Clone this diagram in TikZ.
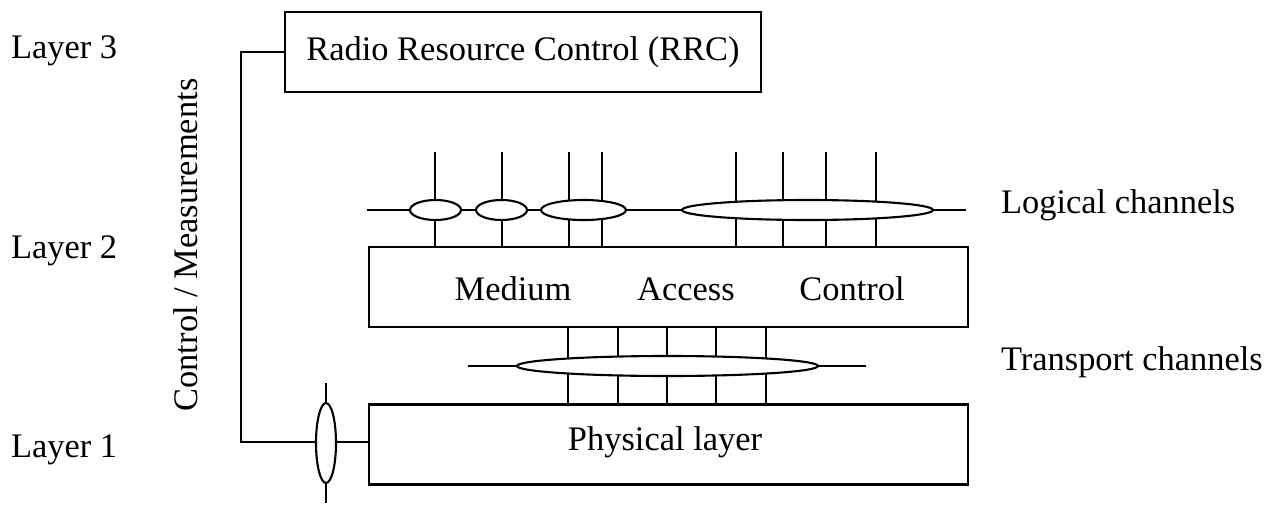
\documentclass[tikz,border=0pt]{standalone}
\usepackage{fontspec}
\setmainfont{Liberation Serif}
\usetikzlibrary{shapes.geometric}
\begin{document}
\begin{tikzpicture}[x=0.02cm,y=-0.02cm,
  line width=1.2pt,
  lbl/.style={font=\fontsize{19.6}{23}\selectfont, inner sep=0pt},
  layerbox/.style={draw, rectangle, inner sep=0pt, minimum height=1.6cm},
  chan/.style={draw, ellipse, fill=white, inner sep=0pt, minimum height=0.4cm}
]
\useasboundingbox (0,0) rectangle (1270,517);

% layer labels
\node[lbl, anchor=west] (l3) at (10,51) {Layer 3};
\node[lbl, anchor=west] (l2) at (10,251) {Layer 2};
\node[lbl, anchor=west] (l1) at (10,450) {Layer 1};
\node[lbl, rotate=90] (cm) at (186,245) {Control / Measurements};

% protocol boxes
\node[layerbox, minimum width=9.52cm] (rrc) at (523,52) {};
\node[lbl] (rrct) at (523,52) {Radio Resource Control (RRC)};
\node[layerbox, minimum width=11.98cm] (mac) at (668.5,287) {};
\node[lbl] (medium) at (513,289) {Medium};
\node[lbl] (access) at (686,289) {Access};
\node[lbl] (control) at (852,289) {Control};
\node[layerbox, minimum width=11.98cm] (phy) at (668.5,444.5) {};
\node[lbl] (phyt) at (665,442) {Physical layer};

% channel captions
\node[lbl, anchor=west] (logt) at (1000,205) {Logical channels};
\node[lbl, anchor=west] (trt) at (1000,362) {Transport channels};

% control / measurement path from RRC to the physical layer
\coordinate (bend1) at (241,52);
\coordinate (bend2) at (241,442);
\draw (rrc.west) -- (bend1) -- (bend2) -- (phy.west |- bend2);
\coordinate (cmtop) at (326,383);
\coordinate (cmbot) at (326,503);
\draw (cmtop) -- (cmbot);
\node[chan, minimum width=0.4cm, minimum height=1.6cm] (cme) at (326,443) {};

% logical channels
\coordinate (lgl) at (367,210);
\coordinate (lgr) at (966,210);
\draw (lgl) -- (lgr);
\foreach \x [count=\i] in {435,502,569,602,736,783,826,876} {
  \coordinate (lt\i) at (\x,152);
  \draw (lt\i) -- (lt\i |- mac.north);
}
\node[chan, minimum width=1.02cm] (e1) at (435.5,210) {};
\node[chan, minimum width=1.02cm] (e2) at (501.5,210) {};
\node[chan, minimum width=1.7cm] (e3) at (583.5,210) {};
\node[chan, minimum width=5.02cm] (e4) at (807.5,210) {};

% transport channels
\coordinate (trl) at (468,366);
\coordinate (trr) at (866,366);
\draw (trl) -- (trr);
\foreach \x [count=\i] in {568,618,667,716,766} {
  \coordinate (tt\i) at (\x,366);
  \draw (tt\i |- mac.south) -- (tt\i |- phy.north);
}
\node[chan, minimum width=6.02cm] (te) at (667.5,366) {};
\end{tikzpicture}
\end{document}
